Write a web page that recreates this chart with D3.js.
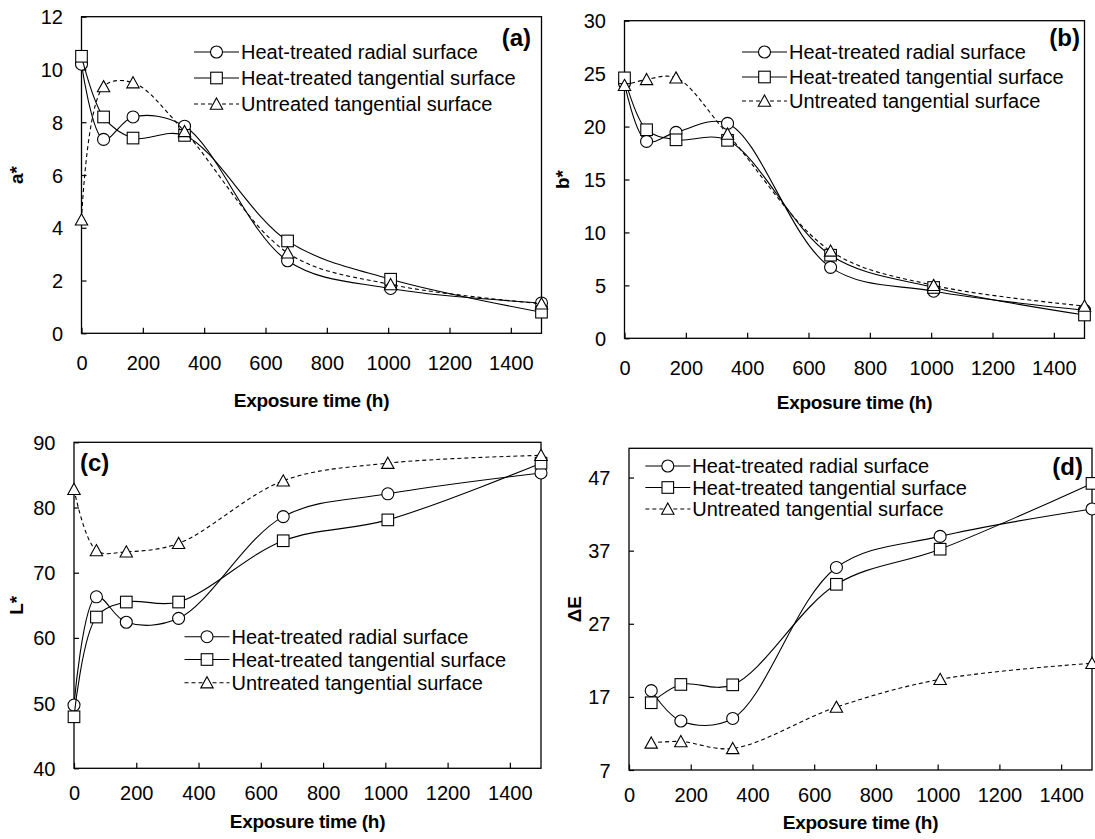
<!DOCTYPE html>
<html>
<head>
<meta charset="utf-8">
<script src="https://cdn.jsdelivr.net/npm/d3@7"></script>
<style>
  body { margin: 0; background: #fff; }
  text { font-family: Arial, "Liberation Sans", sans-serif; fill: #000; }
</style>
</head>
<body>
<div id="chart"></div>
<script>
// exposure times (h)
var hours = [0, 72, 168, 336, 672, 1008, 1500];
var hoursDE = [72, 168, 336, 672, 1008, 1500];

var seriesNames = ["Heat-treated radial surface", "Heat-treated tangential surface", "Untreated tangential surface"];

// a*
var aRadial = [10.2, 7.35, 8.2, 7.85, 2.75, 1.7, 1.15];
var aTangential = [10.5, 8.2, 7.4, 7.5, 3.5, 2.05, 0.8];
var aUntreated = [4.3, 9.35, 9.5, 7.65, 3.05, 1.85, 1.12];

// b*
var bRadial = [24.1, 18.6, 19.45, 20.3, 6.7, 4.45, 2.65];
var bTangential = [24.6, 19.7, 18.75, 18.7, 7.85, 4.8, 2.2];
var bUntreated = [23.9, 24.45, 24.6, 19.3, 8.25, 5.0, 3.05];

// L*
var LRadial = [49.7, 66.3, 62.4, 63.0, 78.6, 82.1, 85.3];
var LTangential = [47.9, 63.2, 65.5, 65.5, 74.9, 78.1, 86.8];
var LUntreated = [82.8, 73.4, 73.2, 74.5, 84.1, 86.8, 88.0];

// delta E (no value at 0 h)
var dERadial = [17.85, 13.7, 14.05, 34.7, 38.95, 42.7];
var dETangential = [16.2, 18.7, 18.65, 32.4, 37.2, 46.2];
var dEUntreated = [10.7, 10.9, 9.95, 15.6, 19.4, 21.6];

// tick labels
var xTicks = [0, 200, 400, 600, 800, 1000, 1200, 1400];
var aTicks = [0, 2, 4, 6, 8, 10, 12];
var bTicks = [0, 5, 10, 15, 20, 25, 30];
var LTicks = [40, 50, 60, 70, 80, 90];
var dETicks = [7, 17, 27, 37, 47];

var svg = d3.select("#chart")
            .append("svg")
            .attr("width", 1095)
            .attr("height", 839);

plot_panel(svg, {
    left: 81.5, right: 541.5, top: 16.7, bottom: 333.3,
    xs: hours, series: [aRadial, aTangential, aUntreated],
    yDomain: [0, 12], yTicks: aTicks, yLabel: "a*",
    xPad: 22.5, xTitleY: 407, yTitleX: 16,
    tag: "(a)", tagX: 531, tagY: 46, tagAnchor: "end",
    legendX: 194, legendRows: [52, 78, 104]
});

plot_panel(svg, {
    left: 624.5, right: 1084.5, top: 20.7, bottom: 338.3,
    xs: hours, series: [bRadial, bTangential, bUntreated],
    yDomain: [0, 30], yTicks: bTicks, yLabel: "b*",
    xPad: 22.5, xTitleY: 409, yTitleX: 562,
    tag: "(b)", tagX: 1080, tagY: 46, tagAnchor: "end",
    legendX: 742, legendRows: [52, 77, 101]
});

plot_panel(svg, {
    left: 74, right: 541, top: 442.3, bottom: 768.3,
    xs: hours, series: [LRadial, LTangential, LUntreated],
    yDomain: [40, 90], yTicks: LTicks, yLabel: "L*",
    xPad: 17.3, xTitleY: 828, yTitleX: 16,
    tag: "(c)", tagX: 80, tagY: 471, tagAnchor: "start",
    legendX: 184.5, legendRows: [636.7, 659.5, 682.7]
});

plot_panel(svg, {
    left: 629, right: 1092, top: 448.3, bottom: 770,
    xs: hoursDE, series: [dERadial, dETangential, dEUntreated],
    yDomain: [7, 51], yTicks: dETicks, yLabel: "\u0394E",
    xPad: 17.3, xTitleY: 829, yTitleX: 574,
    tag: "(d)", tagX: 1083, tagY: 475, tagAnchor: "end",
    legendX: 645.3, legendRows: [466, 487.5, 509]
});


// draws one marker shape (0 circle, 1 square, 2 triangle) at the origin of g
function add_marker(g, kind) {
    var m;
    if (kind == 0) {
        m = g.append("circle").attr("r", 6);
    } else if (kind == 1) {
        m = g.append("rect").attr("x", -5.8).attr("y", -5.8).attr("width", 11.6).attr("height", 11.6);
    } else {
        m = g.append("path").attr("d", "M0,-6L6.2,5.2L-6.2,5.2Z");
    }
    m.attr("fill", "#fff").attr("stroke", "#000").attr("stroke-width", 1.1);
}


// one panel of the figure: frame, axes, smoothed series, legend and tag
function plot_panel(svg, p) {

    var x = d3.scaleLinear().domain([0, 1500]).range([p.left, p.right]);
    var y = d3.scaleLinear().domain(p.yDomain).range([p.bottom, p.top]);

    var g = svg.append("g");

    // x-axis with ticks pointing into the plot
    var xaxis = d3.axisBottom(x)
                .tickValues(xTicks)
                .tickFormat(d3.format("d"))
                .tickSizeInner(-5.5)
                .tickSizeOuter(0)
                .tickPadding(p.xPad);

    var gx = g.append("g")
                .attr("transform", "translate(0," + p.bottom + ")")
                .call(xaxis);
    gx.select(".domain").remove();
    gx.selectAll("line").attr("stroke", "#000").attr("stroke-width", 1.2);
    gx.selectAll("text").style("font-size", "20px");

    // y-axis
    var yaxis = d3.axisLeft(y)
                .tickValues(p.yTicks)
                .tickFormat(d3.format("d"))
                .tickSizeInner(-5)
                .tickSizeOuter(0)
                .tickPadding(18.5);

    var gy = g.append("g")
                .attr("transform", "translate(" + p.left + ",0)")
                .call(yaxis);
    gy.select(".domain").remove();
    gy.selectAll("line").attr("stroke", "#000").attr("stroke-width", 1.2);
    gy.selectAll("text").style("font-size", "20px").attr("dy", "0.35em");

    // plot frame
    g.append("rect")
        .attr("x", p.left)
        .attr("y", p.top)
        .attr("width", p.right - p.left)
        .attr("height", p.bottom - p.top)
        .attr("fill", "none")
        .attr("stroke", "#000")
        .attr("stroke-width", 1.3);

    // axis titles
    g.append("text")
        .attr("x", (p.left + p.right) / 2)
        .attr("y", p.xTitleY)
        .attr("text-anchor", "middle")
        .style("font-size", "19px")
        .style("font-weight", "bold")
        .style("letter-spacing", "-0.3px")
        .text("Exposure time (h)");

    g.append("text")
        .attr("transform", "translate(" + p.yTitleX + "," + (p.top + p.bottom) / 2 + ") rotate(-90)")
        .attr("text-anchor", "middle")
        .attr("dy", "0.35em")
        .style("font-size", "19px")
        .style("font-weight", "bold")
        .text(p.yLabel);

    // smoothed lines, like the spreadsheet's smooth option
    var line = d3.line()
                .x(function(d) { return x(d[0]); })
                .y(function(d) { return y(d[1]); })
                .curve(d3.curveCatmullRom.alpha(0.5));

    p.series.forEach(function(vals, i) {
        var pts = vals.map(function(v, j) { return [p.xs[j], v]; });

        g.append("path")
            .datum(pts)
            .attr("d", line)
            .attr("fill", "none")
            .attr("stroke", "#000")
            .attr("stroke-width", 1.1)
            .attr("stroke-dasharray", i == 2 ? "4,3" : null);

        pts.forEach(function(d) {
            var mg = g.append("g").attr("transform", "translate(" + x(d[0]) + "," + y(d[1]) + ")");
            add_marker(mg, i);
        });
    });

    // legend
    seriesNames.forEach(function(name, i) {
        var ly = p.legendRows[i];
        g.append("line")
            .attr("x1", p.legendX)
            .attr("x2", p.legendX + 45)
            .attr("y1", ly)
            .attr("y2", ly)
            .attr("stroke", "#000")
            .attr("stroke-width", 1.1)
            .attr("stroke-dasharray", i == 2 ? "4,3" : null);
        var mg = g.append("g").attr("transform", "translate(" + (p.legendX + 22.5) + "," + ly + ")");
        add_marker(mg, i);
        g.append("text")
            .attr("x", p.legendX + 47)
            .attr("y", ly)
            .attr("dy", "0.35em")
            .style("font-size", "20px")
            .text(name);
    });

    // panel tag
    g.append("text")
        .attr("x", p.tagX)
        .attr("y", p.tagY)
        .attr("text-anchor", p.tagAnchor)
        .style("font-size", "24px")
        .style("font-weight", "bold")
        .text(p.tag);
}
</script>
</body>
</html>
